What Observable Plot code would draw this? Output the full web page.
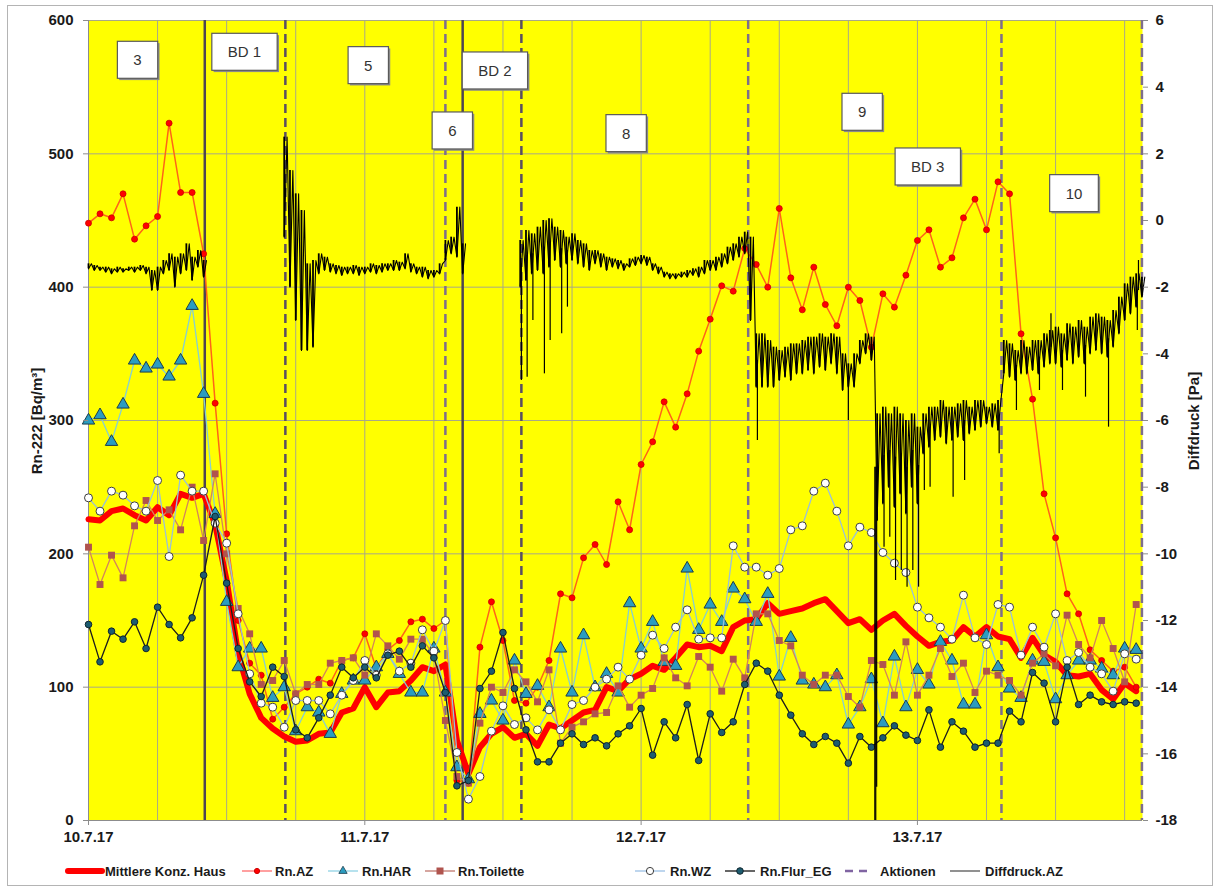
<!DOCTYPE html>
<html><head><meta charset="utf-8">
<script src="https://cdn.jsdelivr.net/npm/d3@7"></script>
<script src="https://cdn.jsdelivr.net/npm/@observablehq/plot@0.6"></script>
<style>
body{margin:0;background:#fff;font-family:"Liberation Sans",Arial,sans-serif;}
#wrap{position:relative;width:1217px;height:889px;overflow:hidden;background:#fff;}
#border{position:absolute;left:7px;top:5px;width:1206px;height:881px;border:1.5px solid #b4b4b4;box-sizing:border-box;}
.ytitle{position:absolute;font-weight:bold;font-size:15px;color:#1a1a1a;white-space:nowrap;transform:translate(-50%,-50%) rotate(-90deg);}
</style></head><body>
<div id="wrap"><div id="border"></div>
<div class="ytitle" style="left:36px;top:421px">Rn-222 [Bq/m³]</div>
<div class="ytitle" style="left:1193px;top:421px">Diffdruck [Pa]</div>
</div>
<script>
// ---- data ----
const hours = d3.range(92); // hourly samples from 10.7.17 00:00
const dayTicks = [0, 24, 48, 72];
const dayLabels = ["10.7.17", "11.7.17", "12.7.17", "13.7.17"];
const gridHours = d3.range(0, 92, 6);
const leftTicks = [0, 100, 200, 300, 400, 500, 600];
const rightTicks = [-18, -16, -14, -12, -10, -8, -6, -4, -2, 0, 2, 4, 6];
const seriesNames = ["Mittlere Konz. Haus", "Rn.AZ", "Rn.HAR", "Rn.Toilette", "Rn.WZ", "Rn.Flur_EG", "Aktionen", "Diffdruck.AZ"];

const mittlere = [226,225,232,234,229,225,235,229,245,242,
 245,222,180,125,95,77,69,63,59,60,
 65,66,81,84,100,85,96,97,105,115,
 112,117,60,35,55,65,70,62,65,56,
 72,69,75,81,83,100,97,106,110,116,
 113,122,132,130,131,127,145,150,151,163,
 155,157,159,163,166,157,148,151,143,150,
 155,146,138,131,134,135,145,138,145,138,
 136,122,137,124,119,109,108,110,98,91,
 103,97];
const rnAZ = [448,455,452,470,436,446,453,523,471,471,
 425,313,215,150,118,109,76,85,95,100,
 106,103,120,122,140,114,128,135,149,151,
 144,150,30,28,130,164,135,90,88,100,
 120,170,167,197,207,192,239,218,267,284,
 314,295,320,352,376,401,397,429,417,400,
 459,407,383,415,387,371,400,390,355,395,
 385,409,435,443,415,422,452,466,443,479,
 470,365,316,245,212,170,155,128,120,112,
 115,100];
const rnHAR = [300,304,284,312,345,339,342,333,345,386,
 320,230,164,115,129,129,92,100,67,85,
 81,65,95,105,105,115,125,110,96,96,
 129,96,40,31,80,90,75,120,95,101,
 85,129,96,139,100,110,96,163,129,149,
 119,116,189,143,162,149,174,166,149,170,
 108,137,105,102,100,109,72,85,106,73,
 123,85,113,102,134,120,87,87,139,115,
 99,92,120,119,91,109,120,120,114,109,
 129,128];
const rnToilette = [205,177,199,182,221,240,225,233,218,250,
 210,260,200,159,140,102,105,120,95,102,
 102,118,120,122,109,140,131,121,136,136,
 124,75,33,28,73,100,96,113,104,89,
 113,58,70,74,80,81,101,85,94,99,
 122,107,101,123,115,97,121,107,155,155,
 135,131,109,102,109,109,93,85,120,117,
 94,134,94,109,129,108,118,96,112,109,
 105,94,118,125,116,154,132,122,150,129,
 104,162];
const rnWZ = [242,232,247,244,236,232,255,198,259,247,
 247,223,208,155,110,88,85,70,90,90,
 90,80,94,105,120,109,125,112,118,143,
 127,150,51,16,33,67,86,72,77,68,
 83,68,87,90,100,106,115,106,124,139,
 129,145,158,136,137,137,206,190,190,184,
 189,218,221,247,253,232,206,220,216,201,
 193,186,160,152,145,136,169,137,132,162,
 160,124,145,130,155,120,126,115,110,97,
 125,121];
const rnFlur = [147,119,142,136,149,129,160,147,137,152,
 184,228,178,129,104,93,115,108,68,62,
 77,94,115,107,115,107,124,127,115,131,
 122,96,26,30,99,112,141,99,68,44,
 44,58,65,57,62,56,65,71,84,49,
 74,62,87,45,80,66,74,102,118,112,
 94,79,65,57,63,58,43,63,55,62,
 71,64,60,83,55,74,67,55,58,58,
 82,74,111,103,74,115,87,94,89,87,
 89,88];

// Diffdruck (Pa): typical low / high band per half hour (t = 0, 0.5, ... 91.5); null = no data
const dpStep = 0.5;
const N = null;
const dpLo = [
 -1.45,-1.5,-1.5,-1.55,-1.6,-1.55,-1.55,-1.5,-1.55,-1.5,-1.6,-2.1,-2.1,-1.6,-1.5,-2.0,-1.6,-1.5,-1.8,-1.4,-1.7,
 N,N,N,N,N,N,N,N,N,N,N,N,N,
 -0.5,-2.0,-3.0,-3.9,-3.9,-3.8,-1.6,-1.5,-1.55,-1.6,-1.65,-1.6,-1.6,-1.65,-1.6,-1.55,-1.6,-1.55,-1.5,-1.5,-1.5,-1.45,-1.55,-1.6,-1.7,-1.75,-1.7,-1.6,-1.2,-1.0,-1.1,-1.6,
 N,N,N,N,N,N,N,N,N,
 -2.0,-1.8,-1.6,-1.5,-1.6,-1.4,-1.2,-1.4,-1.3,-1.2,-1.3,-1.4,-1.5,-1.3,-1.4,-1.5,-1.4,-1.45,-1.5,-1.4,-1.35,-1.3,-1.35,-1.5,-1.6,-1.7,-1.75,-1.75,-1.7,-1.7,-1.65,-1.7,-1.6,-1.5,-1.5,-1.4,-1.3,-1.2,-1.1,-1.0,
 -3.0,-5.0,-5.0,-5.0,-5.0,-4.8,-4.7,-4.8,-4.6,-4.6,-4.5,-4.6,-4.4,-4.5,-4.3,-4.6,-5.1,-5.0,-5.0,-4.3,-4.0,-4.2,
 -9.0,-8.5,-8.0,-8.6,-8.2,-8.8,-8.0,-8.5,-7.0,-6.8,-6.6,-6.5,-6.7,-6.6,-6.5,-6.6,-6.4,-6.3,-6.2,-6.1,-6.2,-6.3,
 -4.6,-4.7,-4.8,-4.6,-4.6,-4.5,-4.6,-4.4,-4.3,-4.3,-4.4,-4.2,-4.3,-4.1,-4.3,-4.0,-3.9,-4.0,-4.1,-3.8,-3.4,-3.0,-2.8,-2.6,-2.3];
const dpHi = [
 -1.3,-1.35,-1.4,-1.4,-1.45,-1.4,-1.45,-1.4,-1.4,-1.35,-1.4,-1.5,-1.4,-1.2,-1.0,-1.1,-1.0,-0.7,-1.1,-0.9,-1.2,
 N,N,N,N,N,N,N,N,N,N,N,N,N,
 2.5,1.5,0.8,0.3,-1.3,-1.2,-1.0,-1.1,-1.3,-1.35,-1.4,-1.4,-1.35,-1.4,-1.4,-1.3,-1.35,-1.3,-1.3,-1.2,-1.25,-1.0,-1.3,-1.4,-1.4,-1.5,-1.5,-1.3,-0.6,-0.5,0.4,-0.7,
 N,N,N,N,N,N,N,N,N,
 -0.6,-0.3,-0.4,-0.2,0.0,0.05,-0.2,-0.3,-0.5,-0.4,-0.6,-0.7,-0.9,-0.9,-1.0,-1.1,-1.15,-1.2,-1.3,-1.15,-1.1,-1.05,-1.1,-1.3,-1.4,-1.55,-1.6,-1.6,-1.55,-1.5,-1.45,-1.4,-1.2,-1.2,-1.1,-1.0,-0.8,-0.7,-0.5,-0.35,
 -0.5,-3.4,-3.4,-3.6,-3.8,-3.9,-3.8,-3.7,-3.7,-3.6,-3.5,-3.5,-3.4,-3.5,-3.4,-3.5,-4.0,-4.3,-4.0,-3.6,-3.4,-3.5,
 -5.8,-5.6,-5.8,-5.6,-5.8,-6.0,-5.8,-6.2,-5.8,-5.6,-5.6,-5.4,-5.6,-5.6,-5.5,-5.4,-5.6,-5.4,-5.4,-5.6,-5.5,-5.4,
 -3.6,-3.7,-3.9,-3.6,-3.8,-3.6,-3.6,-3.4,-3.3,-3.2,-3.4,-3.1,-3.2,-3.0,-3.2,-2.9,-2.8,-2.9,-3.0,-2.7,-2.3,-1.9,-1.7,-1.6,-1.7];
// single Diffdruck excursions (hour, Pa)
const dpSpikeT = [37.6, 38.1, 38.6, 39.6, 40.1, 41.1, 41.6, 58.1, 66.0, 68.3, 68.38, 68.46, 69.1, 69.6, 70.1, 70.6, 71.1, 71.6, 72.1, 72.6, 73.1, 75.1, 76.1, 79.1, 80.6, 82.6, 83.6, 84.6, 86.6, 88.6, 91.1, 91.2];
const dpSpikeV = [-4.8, -4.7, -3.0, -4.6, -3.6, -3.4, -2.6, -6.6, -6.0, -18, -18, -17, -9.8, -9.5, -10.8, -10.5, -11.0, -10.5, -11.0, -8.1, -8.0, -8.3, -7.8, -7.0, -5.7, -5.1, -2.8, -5.1, -5.3, -6.2, -3.3, -1.2];

// Aktionen (hours after 10.7.17 00:00)
const aktionenT = [31.0, 57.3, 79.3, 91.5];
const aktionenDarkT = [17.1, 37.6];
const bdT = [10.1, 32.5];

// box labels
const labelNames = ["3", "BD 1", "5", "6", "BD 2", "8", "9", "BD 3", "10"];
const labelT = [4.26, 13.55, 24.3, 31.6, 35.3, 46.7, 67.2, 72.9, 85.6];
const labelY = [570, 576, 566, 517, 562, 515, 531, 490, 470];

// ---- helpers ----
const yP = p => (p + 18) * 25; // Pa -> left axis units
const rows = arr => hours.map((h, i) => ({t: h, v: arr[i]}));
const dpRows = [], dpBand = [];
dpLo.forEach((lo, i) => {
  const t = i * dpStep;
  if (lo == null) { dpRows.push({t, v: NaN}); return; }
  dpRows.push({t, v: yP(lo)});
  dpRows.push({t: t + dpStep / 2, v: yP(dpHi[i])});
  dpBand.push({t, lo: yP(lo), hi: yP(dpHi[i])});
});
const dpSpikes = dpSpikeT.map((t, i) => {
  const k = Math.min(dpLo.length - 1, Math.round(t / dpStep));
  const mid = (dpLo[k] + dpHi[k]) / 2;
  return {t, y1: yP(mid), y2: yP(dpSpikeV[i])};
});

const st = {
  mittlere: {stroke: "#ff0000"},
  az: {line: "#ff6418", fill: "#ff0000", stroke: "#cc0000"},
  har: {line: "#86cfd0", fill: "#2b9cc0", stroke: "#1d3d4d"},
  toil: {line: "#d4855a", fill: "#b0544e"},
  wz: {line: "#9ac0d8", fill: "#ffffff", stroke: "#3d3d3d"},
  flur: {line: "#1c1c1c", fill: "#1d5c70", stroke: "#10262e"},
  akt: "#7e6e8c", aktDark: "#5a4e62", bd: "#4d4552", grid: "#a8a888", axis: "#8c8c8c"
};

const chart = Plot.plot({
  width: 1217, height: 889,
  marginLeft: 88, marginRight: 75, marginTop: 20, marginBottom: 69,
  x: {domain: [0, 91.55]},
  y: {domain: [0, 600]},
  style: {fontFamily: '"Liberation Sans", Arial, sans-serif', fontSize: "15px", fontWeight: "bold", color: "#1a1a1a", background: "transparent", overflow: "visible"},
  marks: [
    Plot.frame({fill: "#ffff00", stroke: "none"}),
    Plot.gridX(gridHours, {stroke: st.grid, strokeOpacity: 1}),
    Plot.gridY(leftTicks, {stroke: st.grid, strokeOpacity: 1}),
    Plot.ruleX(aktionenT, {stroke: st.akt, strokeWidth: 2.5, strokeDasharray: "9,5"}),
    Plot.ruleX(aktionenDarkT, {stroke: st.aktDark, strokeWidth: 2.5, strokeDasharray: "9,5"}),
    Plot.ruleX(bdT, {stroke: st.bd, strokeWidth: 2.5}),
    Plot.ruleX([0], {stroke: st.axis}),
    Plot.ruleY([0], {stroke: st.axis}),
    Plot.line(rows(mittlere), {x: "t", y: "v", stroke: st.mittlere.stroke, strokeWidth: 6, strokeLinejoin: "round", strokeLinecap: "round"}),
    Plot.line(rows(rnAZ), {x: "t", y: "v", stroke: st.az.line, strokeWidth: 1.5}),
    Plot.dot(rows(rnAZ), {x: "t", y: "v", r: 3, fill: st.az.fill, stroke: st.az.stroke, strokeWidth: 0.8}),
    Plot.line(rows(rnHAR), {x: "t", y: "v", stroke: st.har.line, strokeWidth: 1.3}),
    Plot.dot(rows(rnHAR), {x: "t", y: "v", symbol: "triangle", r: 4.6, fill: st.har.fill, stroke: st.har.stroke, strokeWidth: 1}),
    Plot.line(rows(rnToilette), {x: "t", y: "v", stroke: st.toil.line, strokeWidth: 1.3}),
    Plot.dot(rows(rnToilette), {x: "t", y: "v", symbol: "square", r: 3.9, fill: st.toil.fill, stroke: "none"}),
    Plot.line(rows(rnWZ), {x: "t", y: "v", stroke: st.wz.line, strokeWidth: 1.3}),
    Plot.dot(rows(rnWZ), {x: "t", y: "v", r: 4, fill: st.wz.fill, stroke: st.wz.stroke, strokeWidth: 1}),
    Plot.line(rows(rnFlur), {x: "t", y: "v", stroke: st.flur.line, strokeWidth: 1.3}),
    Plot.dot(rows(rnFlur), {x: "t", y: "v", r: 3.3, fill: st.flur.fill, stroke: st.flur.stroke, strokeWidth: 1}),
    Plot.ruleX(dpBand, {x: "t", y1: "lo", y2: "hi", stroke: "#000", strokeWidth: 1.8}),
    Plot.ruleX(dpSpikes, {x: "t", y1: "y1", y2: "y2", stroke: "#000", strokeWidth: 1.2}),
    Plot.line(dpRows, {x: "t", y: "v", stroke: "#000", strokeWidth: 1.1}),
    Plot.axisY(leftTicks, {anchor: "left", tickSize: 5, tickPadding: 10, label: null, stroke: st.axis}),
    Plot.axisY(rightTicks.map(yP), {anchor: "right", tickSize: 5, tickPadding: 8, label: null, stroke: st.axis,
      tickFormat: v => String(Math.round(v / 25 - 18))}),
    Plot.axisX(dayTicks, {anchor: "bottom", tickSize: 5, tickPadding: 6, label: null, stroke: st.axis,
      tickFormat: d => dayLabels[dayTicks.indexOf(d)]}),
    Plot.text(labelNames, {x: labelT, y: labelY, text: d => d, fontSize: 15, fontWeight: "normal", fill: "#333"})
  ]
});
chart.style.position = "absolute";
chart.style.left = "0px";
chart.style.top = "0px";
document.getElementById("wrap").appendChild(chart);

// white boxes behind the annotation labels
const ns = "http://www.w3.org/2000/svg";
chart.querySelectorAll('g[aria-label="text"] text').forEach(t => {
  const b = t.getBBox();
  const padX = 16, padY = 10;
  const tr = t.getAttribute("transform");
  const mk = (dx, fill, stroke) => {
    const r = document.createElementNS(ns, "rect");
    r.setAttribute("x", b.x - padX + dx);
    r.setAttribute("y", b.y - padY + dx);
    r.setAttribute("width", b.width + 2 * padX);
    r.setAttribute("height", b.height + 2 * padY);
    r.setAttribute("fill", fill);
    if (stroke) { r.setAttribute("stroke", stroke); r.setAttribute("stroke-width", 1.2); }
    if (tr) r.setAttribute("transform", tr);
    t.parentNode.insertBefore(r, t);
  };
  mk(1.8, "#8a8a8a", null);
  mk(0, "#ffffff", "#5a5a5a");
});

// legend
const leg = d3.select("#wrap").append("svg")
  .attr("width", 1217).attr("height", 40)
  .style("position", "absolute").style("left", "0px").style("top", "850px");
const ly = 21;
const legendLayout = [
  {x0: 68, x1: 102, tx: 105, kind: "thick"},
  {x0: 242, x1: 272, tx: 275, kind: "az"},
  {x0: 328, x1: 358, tx: 362, kind: "har"},
  {x0: 425, x1: 455, tx: 458, kind: "toil"},
  {x0: 635, x1: 665, tx: 670, kind: "wz"},
  {x0: 725, x1: 755, tx: 760, kind: "flur"},
  {x0: 845, x1: 873, tx: 880, kind: "akt"},
  {x0: 950, x1: 980, tx: 985, kind: "dp"}
];
legendLayout.forEach((L, i) => {
  const cx = (L.x0 + L.x1) / 2;
  const line = (stroke, w, dash) => leg.append("line").attr("x1", L.x0).attr("x2", L.x1).attr("y1", ly).attr("y2", ly)
    .attr("stroke", stroke).attr("stroke-width", w).attr("stroke-dasharray", dash || null);
  if (L.kind === "thick") line(st.mittlere.stroke, 6).attr("stroke-linecap", "round");
  if (L.kind === "az") { line("#ff8080", 1.5); leg.append("circle").attr("cx", cx).attr("cy", ly).attr("r", 2.6).attr("fill", st.az.fill).attr("stroke", st.az.stroke); }
  if (L.kind === "har") { line("#9fd8e8", 1.5); leg.append("path").attr("d", d3.symbol(d3.symbolTriangle, 30)()).attr("transform", `translate(${cx},${ly})`).attr("fill", st.har.fill).attr("stroke", st.har.stroke).attr("stroke-width", 0.8); }
  if (L.kind === "toil") { line("#c88880", 1.5); leg.append("rect").attr("x", cx - 3.5).attr("y", ly - 3.5).attr("width", 7).attr("height", 7).attr("fill", st.toil.fill); }
  if (L.kind === "wz") { line("#a8c8e8", 1.5); leg.append("circle").attr("cx", cx).attr("cy", ly).attr("r", 3.6).attr("fill", "#fff").attr("stroke", st.wz.stroke); }
  if (L.kind === "flur") { line("#333", 1.5); leg.append("circle").attr("cx", cx).attr("cy", ly).attr("r", 3.3).attr("fill", st.flur.fill).attr("stroke", st.flur.stroke); }
  if (L.kind === "akt") line("#8064a2", 2.5, "8,6");
  if (L.kind === "dp") line("#555", 1.3);
  leg.append("text").attr("x", L.tx).attr("y", ly).attr("dy", "0.35em")
    .attr("font-family", '"Liberation Sans", Arial, sans-serif').attr("font-size", 13).attr("font-weight", "bold")
    .attr("fill", "#1a1a1a").text(seriesNames[i]);
});
</script>
</body></html>
